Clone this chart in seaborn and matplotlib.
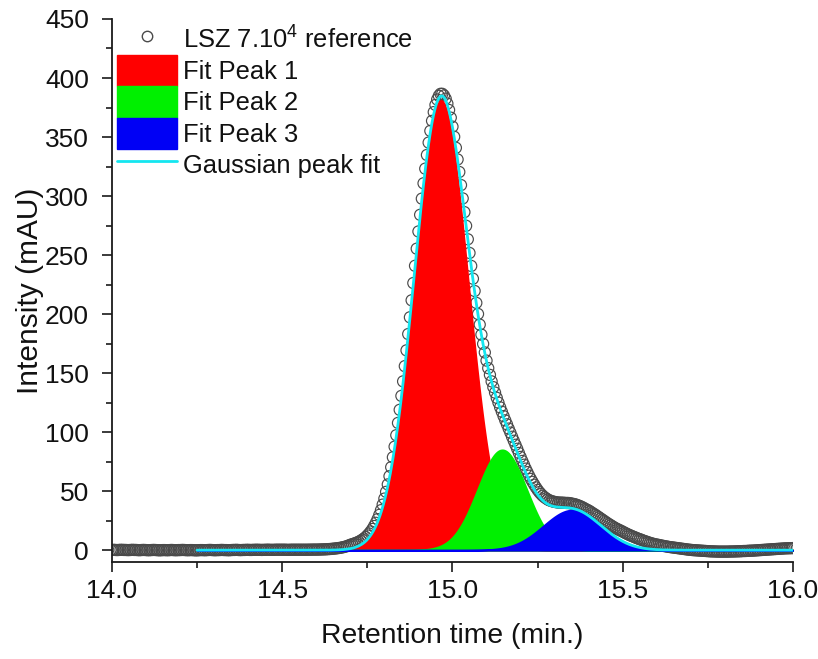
import numpy as np
import matplotlib
matplotlib.use("Agg")
import matplotlib.pyplot as plt
import seaborn as sns
from matplotlib.lines import Line2D
from matplotlib.patches import Patch
from matplotlib.ticker import MultipleLocator

# ---------------- data ----------------
t_start, t_step = 14.0, 0.005          # sampling grid of the measured trace

# measured intensity (mAU), 14.000 .. 14.595
baseline_left = [
    0.2, 0.3, 0.2, 0.1, 0.2, 0.3, 0.3, 0.2, 0.2, 0.1, 0.1, 0.2, 0.3, 0.2, 0.2, 0.1, 0.0, 0.1, 0.2, 0.2,
    0.1, 0.0, 0.0, 0.1, 0.2, 0.2, 0.1, 0.0, -0.1, 0.0, 0.1, 0.1, 0.0, 0.0, 0.1, 0.2, 0.1, 0.0, 0.0, 0.1,
    0.1, 0.2, 0.2, 0.1, 0.0, 0.0, 0.1, 0.1, 0.0, -0.1, -0.1, 0.0, 0.1, 0.1, 0.0, 0.0, 0.1, 0.2, 0.2, 0.1,
    0.0, 0.0, 0.1, 0.1, 0.2, 0.2, 0.1, 0.1, 0.0, 0.0, 0.1, 0.2, 0.2, 0.3, 0.2, 0.1, 0.1, 0.2, 0.2, 0.3,
    0.3, 0.2, 0.2, 0.3, 0.3, 0.4, 0.3, 0.3, 0.2, 0.3, 0.3, 0.4, 0.4, 0.3, 0.3, 0.3, 0.4, 0.4, 0.4, 0.4,
    0.4, 0.4, 0.4, 0.3, 0.3, 0.4, 0.4, 0.4, 0.4, 0.4, 0.4, 0.4, 0.4, 0.4, 0.4, 0.4, 0.45, 0.45, 0.5, 0.5,
]
# measured intensity (mAU), 14.600 .. 15.700
peak_region = [
    0.5, 0.5, 0.6, 0.6, 0.7, 0.7, 0.8, 0.9, 1.0, 1.1,
    1.3, 1.4, 1.6, 1.8, 2.0, 2.3, 2.6, 3.0, 3.4, 4.0,
    4.6, 5.0, 5.5, 6.0, 6.6, 7.2, 8.0, 8.9, 9.9, 11.1,
    12.5, 14.1, 15.9, 18.0, 20.5, 23.2, 26.3, 29.9, 33.9, 38.6,
    43.7, 49.4, 55.7, 62.7, 70.3, 78.7, 87.7, 97.4, 107.8, 118.9,
    130.7, 143.0, 155.9, 169.3, 183.1, 197.3, 211.7, 226.3, 240.9, 255.4,
    270.0, 284.1, 297.8, 310.8, 323.2, 334.8, 345.3, 355.2, 363.7, 371.1,
    377.2, 381.8, 384.9, 386.6, 386.6, 385.2, 382.5, 378.3, 372.9, 366.4,
    358.8, 350.2, 340.9, 331.0, 320.4, 309.3, 298.0, 286.4, 274.8, 263.4,
    251.8, 240.8, 230.0, 219.6, 209.5, 200.1, 191.1, 182.6, 174.8, 167.5,
    160.6, 154.2, 148.5, 143.0, 138.1, 133.5, 129.1, 125.0, 121.0, 117.3,
    113.6, 110.0, 106.6, 103.0, 99.6, 96.1, 92.7, 89.3, 85.9, 82.4,
    79.0, 75.6, 72.4, 69.1, 66.1, 63.1, 60.4, 57.9, 55.5, 53.2,
    51.1, 49.2, 47.6, 46.1, 44.9, 43.9, 42.9, 42.2, 41.7, 41.2,
    40.9, 40.6, 40.4, 40.3, 40.3, 40.2, 40.1, 40.0, 40.0, 39.8,
    39.5, 39.2, 38.9, 38.4, 37.9, 37.3, 36.6, 35.9, 35.0, 34.3,
    33.6, 32.7, 31.7, 30.8, 29.9, 28.9, 27.9, 26.9, 25.9, 24.9,
    23.9, 22.9, 22.0, 21.1, 20.2, 19.3, 18.5, 17.8, 17.1, 16.4,
    15.7, 14.9, 14.2, 13.5, 12.8, 12.2, 11.6, 11.0, 10.4, 9.8,
    9.3, 8.8, 8.2, 7.7, 7.2, 6.7, 6.2, 5.8, 5.4, 5.0,
    4.8, 4.5, 4.2, 3.9, 3.6, 3.3, 3.1, 2.8, 2.6, 2.4,
    2.2, 2.0, 1.8, 1.6, 1.4, 1.2, 1.0, 0.8, 0.6, 0.4,
    0.3,
]
# measured intensity (mAU), 15.705 .. 16.000
baseline_right = [
    0.1, 0.0, -0.1, -0.2, -0.3, -0.4, -0.5, -0.6, -0.7, -0.8,
    -0.9, -1.0, -1.0, -1.1, -1.1, -1.2, -1.2, -1.2, -1.2, -1.2,
    -1.2, -1.2, -1.1, -1.1, -1.1, -1.0, -1.0, -0.9, -0.9, -0.8,
    -0.7, -0.7, -0.6, -0.5, -0.4, -0.4, -0.3, -0.2, -0.1, 0.0,
    0.1, 0.2, 0.3, 0.4, 0.5, 0.6, 0.7, 0.8, 0.9, 1.0,
    1.1, 1.2, 1.3, 1.4, 1.5, 1.6, 1.6, 1.7, 1.7, 1.8,
]

# Gaussian fit parameters (centre in min, height in mAU, sigma in min)
peak_labels = ["Fit Peak 1", "Fit Peak 2", "Fit Peak 3"]
peak_centers = [14.966, 15.146, 15.352]
peak_heights = [381.0, 85.0, 34.0]
peak_sigmas = [0.079, 0.072, 0.085]
fit_range = (14.25, 16.0)

data_label = "LSZ 7.10$^4$ reference"
fit_label = "Gaussian peak fit"
x_label = "Retention time (min.)"
y_label = "Intensity (mAU)"
x_ticks = [14.0, 14.5, 15.0, 15.5, 16.0]
y_ticks = [0, 50, 100, 150, 200, 250, 300, 350, 400, 450]

# ---------------- build arrays ----------------
intensity = np.array(baseline_left + peak_region + baseline_right)
t_data = np.round(t_start + t_step * np.arange(len(intensity)), 3)

x_fit = np.linspace(fit_range[0], fit_range[1], 701)
components = [h * np.exp(-0.5 * ((x_fit - c) / s) ** 2)
              for c, h, s in zip(peak_centers, peak_heights, peak_sigmas)]
fit_total = np.sum(components, axis=0)

# ---------------- style ----------------
sns.set_theme(style="ticks")
plt.rcParams['font.family'] = ['Liberation Sans', 'DejaVu Sans']
plt.rcParams['mathtext.fontset'] = 'custom'
plt.rcParams['mathtext.rm'] = 'Liberation Sans'
plt.rcParams['mathtext.it'] = 'Liberation Sans:italic'
plt.rcParams['mathtext.default'] = 'regular'

fill_colors = ["#FF0000", "#00F000", "#0000F5"]
cyan = "#14E6F0"
circle_edge = "#4a4a4a"
axis_color = "#1a1a1a"

fig = plt.figure(figsize=(8.18, 6.59), dpi=100)
ax = fig.add_axes([0.1369, 0.1472, 0.8325, 0.824])

# measured points (drawn first; the fills sit on top of them)
sns.scatterplot(x=t_data, y=intensity, ax=ax, marker='o', s=64,
                linewidth=0.85, legend=False, zorder=1)
sc = ax.collections[-1]
sc.set_facecolor('none')
sc.set_edgecolor(circle_edge)
sc.set_linewidth(0.85)

# fitted peaks
for comp, col in zip(components, fill_colors):
    ax.fill_between(x_fit, 0, comp, facecolor=col, edgecolor=col,
                    linewidth=1.3, zorder=2)

# cumulative fit
sns.lineplot(x=x_fit, y=fit_total, ax=ax, color=cyan, linewidth=2.0,
             estimator=None, sort=False, zorder=3)

# ---------------- axes ----------------
ax.set_xlim(14.0, 16.0)
ax.set_ylim(-10, 450)
ax.set_xticks(x_ticks)
ax.set_xticklabels([f"{v:.1f}" for v in x_ticks])
ax.set_yticks(y_ticks)
ax.set_yticklabels([str(v) for v in y_ticks])
ax.xaxis.set_minor_locator(MultipleLocator(0.25))
ax.yaxis.set_minor_locator(MultipleLocator(25))

sns.despine(ax=ax)
for side in ("left", "bottom"):
    ax.spines[side].set_linewidth(1.3)
    ax.spines[side].set_color(axis_color)

ax.tick_params(which='major', direction='out', length=7.5, width=1.2,
               color=axis_color, labelcolor='#111111', labelsize=19)
ax.tick_params(which='minor', direction='out', length=4, width=1.2,
               color=axis_color)
ax.tick_params(axis='x', which='major', pad=4.5)
ax.tick_params(axis='y', which='major', pad=9)

ax.set_xlabel(x_label, fontsize=20.3, color='#111111', labelpad=15)
ax.set_ylabel(y_label, fontsize=21.5, color='#111111', labelpad=1)

# ---------------- legend ----------------
handles = [Line2D([], [], marker='o', ls='none', mfc='none', mec=circle_edge,
                  ms=7.5, mew=1.0)]
handles += [Patch(facecolor=c, edgecolor=c) for c in fill_colors]
handles += [Line2D([], [], color=cyan, lw=2.0)]
labels = [data_label] + peak_labels + [fit_label]
ax.legend(handles, labels, loc='upper left', bbox_to_anchor=(0, 1),
          frameon=False, fontsize=18.4, handlelength=2.34, handleheight=1.5,
          labelspacing=0.0, handletextpad=0.25, borderpad=0.0,
          borderaxespad=0.2, labelcolor='#111111')

fig.savefig("out.png", dpi=100)
